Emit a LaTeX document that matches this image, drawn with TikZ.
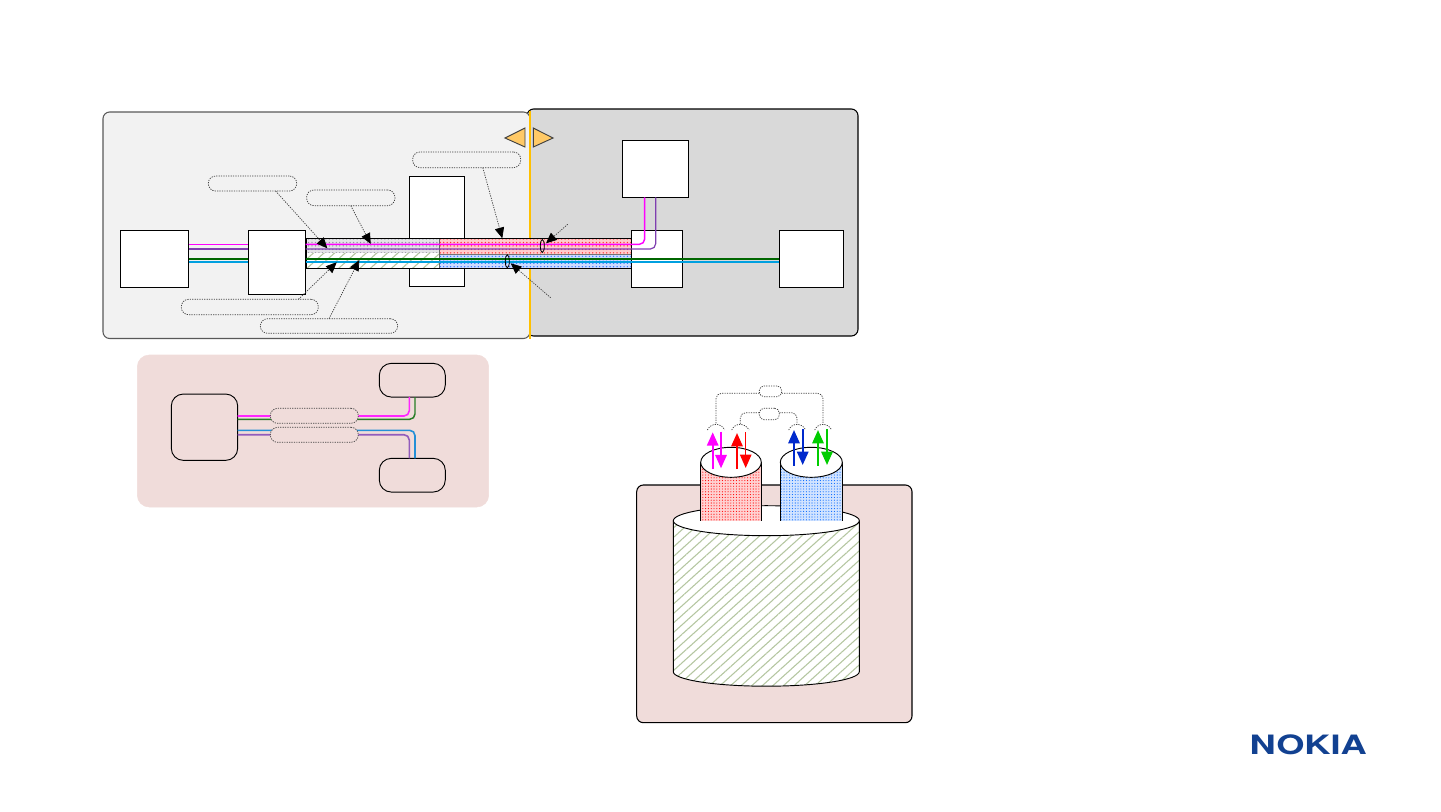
\documentclass[tikz,border=0pt]{standalone}
\usepackage{fontspec}
\usepackage{tikz}
\usetikzlibrary{arrows.meta,patterns.meta}
\newfontfamily\logofont{TeX Gyre Heros}
\definecolor{panellight}{HTML}{F2F2F2}
\definecolor{paneldark}{HTML}{D9D9D9}
\definecolor{panelpink}{HTML}{F0DCDA}
\definecolor{cutgold}{HTML}{FFC000}
\definecolor{tabgold}{HTML}{FFC966}
\definecolor{fibremagenta}{HTML}{FF00FF}
\definecolor{fibrepurple}{HTML}{7F3FB0}
\definecolor{fibregreen}{HTML}{006600}
\definecolor{fibrecyan}{HTML}{00A0E0}
\definecolor{hatchgreen}{HTML}{B4C6A0}
\definecolor{logoblue}{HTML}{124191}
\definecolor{bandgray}{HTML}{777788}
\tikzset{
  pxsize/.style 2 args={minimum width=#1*0.75pt,minimum height=#2*0.75pt},
  blockbox/.style={draw,fill=white,line width=0.8pt,inner sep=0pt,outer sep=0pt},
  softbox/.style={blockbox,fill=panelpink,rounded corners=9pt,line width=0.7pt},
  dotline/.style={draw=black!75,line width=0.55pt,dash pattern=on 0.9pt off 0.9pt},
  calloutpill/.style={dotline,inner sep=0pt,outer sep=0pt,rounded corners=5.5pt},
  leaderarrow/.style={dotline,-{Triangle[length=8pt,width=7pt,color=black]}},
  fibreline/.style={line width=1.1pt,rounded corners=4pt},
  streamarrow/.style={line width=1.5pt,-{Triangle[length=10pt,width=8.5pt]}},
  banddots/.style={inner sep=0pt,outer sep=0pt,preaction={fill=#1!20!white},pattern={Dots[radius=0.55pt,distance=2.6pt]},pattern color=#1!80!white},
  bandhatch/.style={preaction={fill=white},pattern={Lines[angle=42,distance=5.3pt,line width=0.8pt]},pattern color=hatchgreen},
  coredots/.style={preaction={fill=#1!18!white},pattern={Dots[radius=0.42pt,distance=2.1pt]},pattern color=#1}
}

\begin{document}
\begin{tikzpicture}[x=0.75pt,y=0.75pt,yscale=-1]
\path [use as bounding box] (0,0) rectangle (1441,811);

%Shape: panels of the upper drawing
\draw [fill=paneldark,line width=0.8pt,rounded corners=5pt] (527,109) rectangle (858,336);
\draw [draw=black!65,fill=panellight,line width=0.8pt,rounded corners=5pt] (103,112) rectangle (530,338.5);
\draw [cutgold,line width=1.5pt] (530,111) -- (530,339);
\draw [fill=tabgold,draw=black!75,line width=0.7pt] (505,138) -- (525,128) -- (525,147) -- cycle;
\draw [fill=tabgold,draw=black!75,line width=0.7pt] (533.3,128) -- (553,138) -- (533.3,147) -- cycle;

% Levels of the fibres
\coordinate (magrow) at (0,244.3);
\coordinate (purrow) at (0,249);
\coordinate (grnrow) at (0,259);
\coordinate (cyanrow) at (0,261.7);
\coordinate (magdrop) at (644.7,197.3);
\coordinate (purdrop) at (655.7,197.3);

% Blocks
\node (boxa) [blockbox,pxsize={68.4}{57}] at (154.5,258.8) {};
\node (boxb) [blockbox,pxsize={57.4}{64}] at (277,262.3) {};
\node (boxc) [blockbox,pxsize={55}{110}] at (436.8,231.3) {};
\node (boxd) [blockbox,pxsize={66.4}{57}] at (655.5,168.8) {};
\node (boxe) [blockbox,pxsize={51.4}{57}] at (657,258.8) {};
\node (boxf) [blockbox,pxsize={64.4}{57}] at (811.5,258.8) {};

% Band between the blocks
\node (bandul) [banddots=bandgray,pxsize={133}{15}] at (372.5,245.8) {};
\node (bandll) [inner sep=0pt,outer sep=0pt,bandhatch,pxsize={133}{15}] at (372.5,260.8) {};
\node (bandur) [banddots=red,pxsize={192}{15.5}] at (535.3,246) {};
\node (bandlr) [banddots=blue!70!cyan,pxsize={192}{14}] at (535.3,261.3) {};
\draw [draw=black!55,line width=0.5pt] (bandlr.north west) -- (bandlr.north east);
\draw [draw=black!60,line width=1pt] (bandur.north west) -- (bandlr.south west);
\node (band) [draw,line width=0.9pt,inner sep=0pt,outer sep=0pt,pxsize={325.3}{30}] at (468.7,253.3) {};

% Fibres
\draw [fibreline,fibremagenta] (boxa.east |- magrow) -- (boxb.west |- magrow);
\draw [fibreline,fibrepurple,line width=0.9pt] (boxa.east |- purrow) -- (boxb.west |- purrow);
\draw [fibreline,fibregreen,line width=1.3pt] (boxa.east |- grnrow) -- (boxb.west |- grnrow);
\draw [fibreline,fibrecyan,line width=1.3pt] (boxa.east |- cyanrow) -- (boxb.west |- cyanrow);
\draw [fibreline,fibremagenta] (boxb.east |- magrow) -| (magdrop);
\draw [fibreline,fibrepurple,line width=0.9pt] (boxb.east |- purrow) -| (purdrop);
\draw [fibreline,fibregreen,line width=1.3pt] (boxb.east |- grnrow) -- (boxf.west |- grnrow);
\draw [fibreline,fibrecyan,line width=1.3pt] (boxb.east |- cyanrow) -- (boxf.west |- cyanrow);

%Shape: rings round the fibres
\draw [line width=0.6pt] (542.3,246) ellipse [x radius=2,y radius=6.5];
\draw [line width=0.6pt] (507.3,261.3) ellipse [x radius=2,y radius=6.5];

% Callouts
\node (calla) [calloutpill,pxsize={88.4}{15}] at (252.5,183.5) {};
\node (callb) [calloutpill,pxsize={88.3}{15.7}] at (350.8,197.8) {};
\node (callc) [calloutpill,pxsize={108}{15.7}] at (466.7,159.8) {};
\node (calld) [calloutpill,pxsize={137}{15.4}] at (249.8,307) {};
\node (calle) [calloutpill,pxsize={137.4}{14.6}] at (329,326) {};
\coordinate (tipa) at (327.3,248.3);
\coordinate (tipb) at (370.7,244);
\coordinate (tipc) at (502.3,238.3);
\coordinate (tipd) at (336.7,262.3);
\coordinate (tipe) at (359.3,260);
\coordinate (tipf) at (546,243.3);
\coordinate (tipg) at (510.7,263.3);
\coordinate (tailf) at (567.7,224.3);
\coordinate (tailg) at (550.7,297.7);
\draw [leaderarrow] (calla.-18.4) -- (tipa);
\draw [leaderarrow] (callb.south) -- (tipb);
\draw [leaderarrow] (callc.-26.9) -- (tipc);
\draw [leaderarrow] (calld.9) -- (tipd);
\draw [leaderarrow] (calle.north) -- (tipe);
\draw [leaderarrow] (tailf) -- (tipf);
\draw [leaderarrow] (tailg) -- (tipg);

%Shape: lower left panel
\draw [panelpink,fill=panelpink,rounded corners=9pt] (137.3,355) rectangle (488.7,507);
\node (boxg) [softbox,pxsize={66.4}{66.3}] at (204.5,427.2) {};
\node (boxh) [softbox,pxsize={66}{33.7}] at (412.3,380.2) {};
\node (boxi) [softbox,pxsize={66}{33.7}] at (412.3,475.2) {};
\coordinate (mlrow) at (0,416);
\coordinate (glrow) at (0,419.3);
\coordinate (clrow) at (0,430.3);
\coordinate (plrow) at (0,434.7);
\coordinate (lefttap) at (409.3,0);
\coordinate (righttap) at (415,0);
\draw [fibreline,line width=1.2pt,fibremagenta!85!white] (boxg.east |- mlrow) -| (boxh.south -| lefttap);
\draw [fibreline,fibregreen!85!white] (boxg.east |- glrow) -| (boxh.south -| righttap);
\draw [fibreline,line width=1.2pt,cyan!70!blue!90!white] (boxg.east |- clrow) -| (boxi.north -| righttap);
\draw [fibreline,line width=1.2pt,fibrepurple!85!white] (boxg.east |- plrow) -| (boxi.north -| lefttap);
\node (pillm) [calloutpill,fill=panelpink,pxsize={88}{15}] at (314.3,415.8) {};
\node (pillc) [calloutpill,fill=panelpink,pxsize={88}{15}] at (314.3,434.8) {};

%Shape: lower right panel
\draw [fill=panelpink,line width=0.8pt,rounded corners=5pt] (636.7,485) rectangle (912,722.7);

%Shape: big cable
\path [bandhatch] (673.3,520.7) -- (673.3,671.7) arc [start angle=180,end angle=0,x radius=93,y radius=14.5] -- (859.3,520.7) -- cycle;
\draw [line width=0.7pt] (673.3,520.7) -- (673.3,671.7) arc [start angle=180,end angle=0,x radius=93,y radius=14.5] -- (859.3,520.7);
\draw [fill=white,line width=0.7pt] (766.3,520.7) ellipse [x radius=93,y radius=15];

%Shape: red tube
\fill [coredots=red] (700.7,462.3) rectangle (761.3,520.7);
\draw [line width=0.7pt] (700.7,520.7) -- (700.7,462.3) (761.3,462.3) -- (761.3,520.7);
\draw [fill=white,line width=0.7pt] (731,462.3) ellipse [x radius=30.3,y radius=15];
%Shape: blue tube
\fill [coredots=blue!60!cyan] (780.3,462.3) rectangle (842.3,520.7);
\draw [line width=0.7pt] (780.3,520.7) -- (780.3,462.3) (842.3,462.3) -- (842.3,520.7);
\draw [fill=white,line width=0.7pt] (811.3,462.3) ellipse [x radius=31,y radius=15];

% Streams
\draw [streamarrow,fibremagenta] (712.7,469) -- (712.7,432.3);
\draw [streamarrow,fibremagenta] (721,431.7) -- (721,468.3);
\draw [streamarrow,red] (737,469) -- (737,433);
\draw [streamarrow,red,line width=1.1pt] (745.7,432) -- (745.7,468);
\draw [streamarrow,blue!80!cyan!80!black] (794,465.7) -- (794,430);
\draw [streamarrow,blue!80!cyan!80!black] (802.7,429) -- (802.7,465);
\draw [streamarrow,green!80!black] (818,465.7) -- (818,430);
\draw [streamarrow,green!80!black] (827,429) -- (827,465);

% Pairs and what joins them
\draw [dotline] (707.3,430) .. controls (711,422.5) and (721,422.5) .. (724.7,430);
\draw [dotline] (731.7,430) .. controls (735,422.5) and (745,422.5) .. (749,430);
\draw [dotline] (788.7,430) .. controls (792,422.5) and (802,422.5) .. (805.7,430);
\draw [dotline] (814.7,430) .. controls (818,422.5) and (828,422.5) .. (831.7,430);
\node (pillouter) [calloutpill,rounded corners=3.5pt,pxsize={22.4}{10.7}] at (770.5,391.3) {};
\node (pillinner) [calloutpill,rounded corners=3.5pt,pxsize={20}{11.4}] at (769.3,414) {};
\coordinate (outerrow) at (0,393.3);
\coordinate (innerrow) at (0,412.7);
\coordinate (arca) at (716,424.5);
\coordinate (arcb) at (740.3,424.5);
\coordinate (arcc) at (797,424.5);
\coordinate (arcd) at (823,424.5);
\draw [dotline,rounded corners=4pt] (pillouter.west |- outerrow) -| (arca);
\draw [dotline,rounded corners=4pt] (pillouter.east |- outerrow) -| (arcd);
\draw [dotline,rounded corners=4pt] (pillinner.west |- innerrow) -| (arcb);
\draw [dotline,rounded corners=4pt] (pillinner.east |- innerrow) -| (arcc);

% Text Node
\node (logo) [inner sep=0pt,xscale=1.36,text=logoblue,font=\logofont\bfseries\fontsize{20}{20}\selectfont] at (1308.3,745) {NOKIA};

\end{tikzpicture}
\end{document}
